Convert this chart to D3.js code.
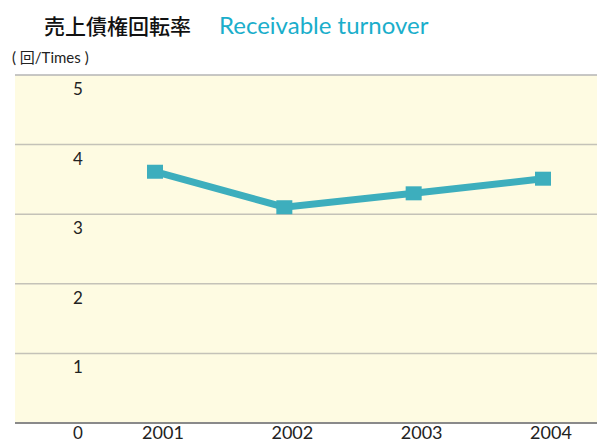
<html>
<head>
    <meta charset="utf-8">
    <title>売上債権回転率</title>
</head>
<body style="margin:0;background:#fff">
    <script src="https://cdn.jsdelivr.net/npm/d3@7"></script>
    <script>
        var years = ["2001", "2002", "2003", "2004"];
        var turnover = [3.61, 3.10, 3.30, 3.51];
        var yTicks = [0, 1, 2, 3, 4, 5];

        var width = 597, height = 444;
        var plotLeft = 15, plotRight = 597, plotTop = 75, plotBottom = 423;

        var svg = d3.select("body").append("svg")
            .attr("width", width)
            .attr("height", height)
            .style("display", "block");

        var x = d3.scalePoint().domain(years).range([155, 543]);
        var y = d3.scaleLinear().domain([0, 5]).range([plotBottom, plotTop]);

        // 背景
        svg.append("rect")
            .attr("x", plotLeft).attr("y", plotTop)
            .attr("width", plotRight - plotLeft).attr("height", plotBottom - plotTop)
            .attr("fill", "#fefbe2");

        // 横線
        svg.selectAll("line.grid")
            .data(yTicks)
            .enter().append("line")
            .attr("class", "grid")
            .attr("x1", plotLeft).attr("x2", plotRight)
            .attr("y1", d => y(d)).attr("y2", d => y(d))
            .attr("stroke", d => d === 0 ? "#8a8a8a" : (d === 5 ? "#b4b4b4" : "#c4c2b8"))
            .attr("stroke-width", d => d === 0 ? 2 : 1.5);

        // y軸ラベル（0 は軸の下）
        svg.selectAll("text.ytick")
            .data(yTicks)
            .enter().append("text")
            .attr("class", "ytick")
            .attr("x", 78)
            .attr("y", d => d === 0 ? 439 : y(d) + 20)
            .attr("text-anchor", "middle")
            .attr("font-family", "Lato, 'Open Sans', sans-serif")
            .attr("font-size", 17)
            .attr("fill", "#222")
            .text(d => d);

        // x軸ラベル
        svg.selectAll("text.xtick")
            .data(years)
            .enter().append("text")
            .attr("class", "xtick")
            .attr("x", d => x(d) + 8)
            .attr("y", 439)
            .attr("text-anchor", "middle")
            .attr("font-family", "Lato, 'Open Sans', sans-serif")
            .attr("font-size", 18)
            .attr("fill", "#222")
            .text(d => d);

        // 折れ線
        var line = d3.line()
            .x((d, i) => x(years[i]))
            .y(d => y(d));

        svg.append("path")
            .datum(turnover)
            .attr("d", line)
            .attr("fill", "none")
            .attr("stroke", "#3daebd")
            .attr("stroke-width", 7);

        svg.selectAll("rect.marker")
            .data(turnover)
            .enter().append("rect")
            .attr("class", "marker")
            .attr("x", (d, i) => x(years[i]) - 8)
            .attr("y", d => y(d) - 7)
            .attr("width", 16)
            .attr("height", 14)
            .attr("fill", "#3daebd");

        // タイトル
        svg.append("text")
            .attr("x", 44).attr("y", 34)
            .attr("font-family", "'Noto Sans CJK JP', sans-serif")
            .attr("font-size", 21)
            .attr("font-weight", 500)
            .attr("fill", "#111")
            .text("売上債権回転率");

        svg.append("text")
            .attr("x", 219).attr("y", 34)
            .attr("font-family", "Lato, 'Open Sans', sans-serif")
            .attr("font-size", 24)
            .attr("fill", "#1aaecb")
            .text("Receivable turnover");

        svg.append("text")
            .attr("x", 12).attr("y", 63)
            .attr("font-family", "Lato, 'Noto Sans CJK JP', sans-serif")
            .attr("font-size", 15)
            .attr("fill", "#222")
            .text("( 回/Times )");
    </script>
</body>
</html>
